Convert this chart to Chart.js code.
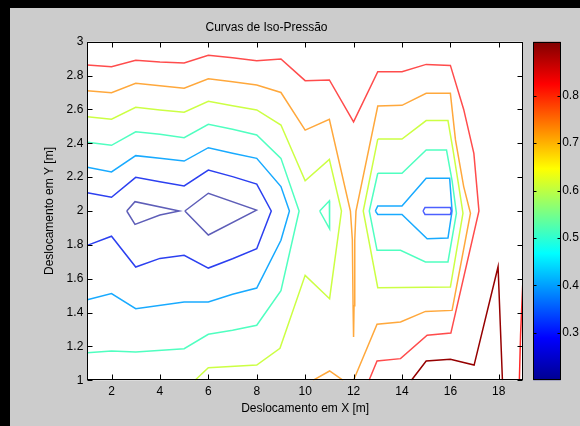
<!DOCTYPE html>
<html>
<head>
<meta charset="utf-8">
<script src="https://cdn.jsdelivr.net/npm/chart.js@4.4.1/dist/chart.umd.min.js"></script>
<style>
html, body { margin: 0; background: #000; }
#wrap { position: absolute; left: 10px; top: 8px; width: 570px; height: 418px; background: #cccccc; }
#wrap canvas { position: absolute; left: 0; top: 0; }
</style>
</head>
<body>
<div id="wrap">
  <canvas id="plot" width="570" height="418"></canvas>
  <canvas id="cbar" width="570" height="418"></canvas>
</div>
<script>
// ticks
const xTicks = [2, 4, 6, 8, 10, 12, 14, 16, 18];
const yTicks = [1, 1.2, 1.4, 1.6, 1.8, 2, 2.2, 2.4, 2.6, 2.8, 3];
const cbarTicks = [0.3, 0.4, 0.5, 0.6, 0.7, 0.8];
const cbarRange = [0.2, 0.914];

// contour lines, [x, y] vertices
const purpleA = [[2.63, 2.0], [2.97, 2.055], [4.8, 2.0], [4.0, 1.976], [2.97, 1.921], [2.63, 2.0]];
const purpleB = [[5.03, 2.0], [6, 2.105], [7.99, 2.005], [6, 1.858], [5.03, 2.0]];

const blueLeft = [[1, 2.108], [2, 2.081], [3, 2.199], [4, 2.173], [5, 2.148], [6, 2.242], [7, 2.203], [8, 2.159],
  [8.6, 2.0], [8, 1.777], [7, 1.718], [6, 1.663], [5, 1.738], [4, 1.72], [3, 1.669], [2, 1.851], [1, 1.797]];
const bluePill = [[14.87, 2.0], [14.95, 2.02], [16, 2.02], [16.04, 2.0], [16, 1.98], [14.95, 1.98], [14.87, 2.0]];

const skyLeft = [[1, 2.258], [2, 2.231], [3, 2.327], [4, 2.311], [5, 2.295], [6, 2.374], [7, 2.341], [8, 2.311],
  [9, 2.144], [9.35, 2.0], [9, 1.827], [8, 1.545], [7, 1.508], [6, 1.462], [5, 1.462], [3, 1.423], [2, 1.512], [1, 1.476]];
const skyRight = [[12.9, 2.0], [13, 2.03], [14, 2.03], [15, 2.194], [15.97, 2.194], [16.07, 2.0], [15.9, 1.84],
  [15.04, 1.836], [14, 1.98], [13, 1.98], [12.9, 2.0]];

const aquaLeft = [[1, 2.406], [2, 2.388], [3, 2.468], [4, 2.453], [5, 2.433], [6, 2.512], [7, 2.483], [8, 2.449],
  [9, 2.311], [9.75, 2.0], [9, 1.53], [8, 1.325], [7, 1.295], [6, 1.272], [5, 1.187], [3, 1.167], [2, 1.173], [1, 1.163]];
const aquaSmall = [[10.6, 2.0], [11, 2.06], [11.02, 2.0], [11, 1.895], [10.6, 2.0]];
const aquaRight = [[13, 2.223], [14, 2.223], [15, 2.36], [15.84, 2.36], [16.07, 2.18], [16.25, 1.987], [15.9, 1.699],
  [14.97, 1.699], [13.94, 1.768], [12.97, 1.768], [12.65, 2.0], [13, 2.223]];

const yellowLeft = [[1, 2.557], [2, 2.542], [3, 2.613], [4, 2.597], [5, 2.583], [6, 2.648], [7, 2.622], [8, 2.597],
  [9, 2.508], [10, 2.179], [11, 2.305], [11.5, 2.0], [11.01, 1.482], [10, 1.62], [8.96, 1.189], [8, 1.09], [6, 1.074], [5.45, 1.0]];
const yellowRight = [[13, 2.425], [14, 2.425], [15, 2.534], [15.9, 2.534], [16.11, 2.36], [16.35, 2.144], [16.52, 1.987],
  [16.0, 1.551], [13, 1.547], [12.4, 2.0], [13, 2.425]];

const orangeMain = [[1, 2.711], [2, 2.699], [3, 2.754], [4, 2.74], [5, 2.725], [6, 2.781], [7, 2.763], [8, 2.744],
  [9, 2.70], [10, 2.478], [11, 2.541], [11.87, 2.0], [11.95, 1.83], [11.98, 1.44], [12, 1.256], [12.02, 1.44],
  [12.05, 1.83], [12.1, 2.0], [13, 2.62], [14, 2.624], [15, 2.695], [16, 2.695], [16.21, 2.42], [16.55, 2.144],
  [16.83, 1.987], [16.07, 1.413], [14.97, 1.407], [13.94, 1.344], [12.97, 1.331], [12.0, 1.0]];
const orangeBump = [[10.32, 1.0], [11.01, 1.055], [11.57, 1.0]];

const redMain = [[1, 2.862], [2, 2.852], [3, 2.89], [4, 2.88], [5, 2.874], [6, 2.92], [7, 2.905], [8, 2.888],
  [9, 2.898], [10, 2.77], [11, 2.774], [12, 2.527], [13, 2.823], [14, 2.823], [15, 2.866], [16, 2.86],
  [16.55, 2.6], [16.97, 2.34], [17.18, 2.0], [16.02, 1.279], [15.04, 1.266], [13.94, 1.128], [12.97, 1.114], [12.64, 1.0]];
const redEdge = [[19, 1.81], [18.99, 1.57], [18.9, 1.27], [18.85, 1.0]];

const darkRed = [[14.39, 1.0], [15.0, 1.114], [16.0, 1.124], [16.98, 1.09], [17.97, 1.671], [18.15, 1.0]];

const font = { family: 'Liberation Sans, Arial, sans-serif', size: 12 };

const jetStops = [[0, '#000090'], [0.125, '#0000ff'], [0.375, '#00ffff'], [0.625, '#ffff00'], [0.875, '#ff0000'], [1, '#800000']];

function line(pts, color) {
  return {
    data: pts.map(([x, y]) => ({ x, y })),
    borderColor: color,
    borderWidth: 1.5,
    showLine: true,
    pointRadius: 0,
    tension: 0
  };
}

const whiteArea = {
  id: 'whiteArea',
  beforeDraw(chart) {
    const { ctx, chartArea: a } = chart;
    ctx.save();
    ctx.fillStyle = '#fff';
    ctx.fillRect(a.left, a.top, a.width, a.height);
    ctx.restore();
  }
};

// matlab style box with inward ticks
const boxTicks = {
  id: 'boxTicks',
  afterDraw(chart) {
    const { ctx, chartArea: a, scales: { x, y } } = chart;
    const l = Math.round(a.left) + 0.5, r = Math.round(a.right) - 0.5;
    const t = Math.round(a.top) + 0.5, b = Math.round(a.bottom) - 0.5;
    ctx.save();
    ctx.strokeStyle = '#000';
    ctx.lineWidth = 1;
    ctx.beginPath();
    xTicks.forEach(v => {
      const px = Math.round(x.getPixelForValue(v)) + 0.5;
      ctx.moveTo(px, b); ctx.lineTo(px, b - 5);
      ctx.moveTo(px, t); ctx.lineTo(px, t + 5);
    });
    yTicks.forEach(v => {
      const py = Math.round(y.getPixelForValue(v)) + 0.5;
      ctx.moveTo(l, py); ctx.lineTo(l + 5, py);
      ctx.moveTo(r, py); ctx.lineTo(r - 5, py);
    });
    ctx.stroke();
    ctx.strokeRect(l, t, r - l, b - t);
    ctx.restore();
  }
};

new Chart(document.getElementById('plot'), {
  type: 'scatter',
  data: {
    datasets: [
      line(purpleA, '#5e5eb8'), line(purpleB, '#5e5eb8'),
      line(blueLeft, '#2c40f0'), line(bluePill, '#4c60ff'),
      line(skyLeft, '#18aaff'), line(skyRight, '#18aaff'),
      line(aquaLeft, '#50ffc0'), line(aquaSmall, '#50ffc0'), line(aquaRight, '#50ffc0'),
      line(yellowLeft, '#ccff44'), line(yellowRight, '#ccff44'),
      line(orangeMain, '#ffa83c'), line(orangeBump, '#ffa83c'),
      line(redMain, '#ff4c4c'), line(redEdge, '#ff2828'),
      line(darkRed, '#960000')
    ]
  },
  options: {
    responsive: false,
    animation: false,
    layout: { padding: { left: 0, right: 57, top: 0, bottom: 0 } },
    plugins: {
      legend: { display: false },
      tooltip: { enabled: false },
      title: {
        display: true,
        text: 'Curvas de Iso-Pressão',
        color: '#000',
        font: { ...font, weight: 'normal' },
        padding: { top: 12, bottom: 7.3 }
      }
    },
    scales: {
      x: {
        type: 'linear',
        min: 1, max: 19,
        afterBuildTicks: s => { s.ticks = xTicks.map(v => ({ value: v })); },
        afterFit: s => { s.height = 45.7; },
        grid: { display: false, drawTicks: false },
        border: { display: false },
        ticks: { color: '#000', font, padding: 4, maxRotation: 0, autoSkip: false, callback: v => String(v) },
        title: { display: true, text: 'Deslocamento em X [m]', color: '#000', font, padding: { top: 0, bottom: 10 } }
      },
      y: {
        type: 'linear',
        min: 1, max: 3,
        afterBuildTicks: s => { s.ticks = yTicks.map(v => ({ value: v })); },
        afterFit: s => { s.width = 77.3; },
        grid: { display: false, drawTicks: false },
        border: { display: false },
        ticks: { color: '#000', font, padding: 4, autoSkip: false, callback: v => String(v) },
        title: { display: true, text: 'Deslocamento em Y [m]', color: '#000', font, padding: { top: 32, bottom: 0 } }
      }
    }
  },
  plugins: [whiteArea, boxTicks]
});

// colorbar
function jetFill(context) {
  const a = context.chart.chartArea;
  if (!a) return '#000';
  const g = context.chart.ctx.createLinearGradient(0, a.bottom, 0, a.top);
  jetStops.forEach(([t, c]) => g.addColorStop(t, c));
  return g;
}

const barTicks = {
  id: 'barTicks',
  afterDraw(chart) {
    const { ctx, chartArea: a, scales: { y } } = chart;
    const l = Math.round(a.left) + 0.5, r = Math.round(a.right) - 0.5;
    const t = Math.round(a.top) + 0.5, b = Math.round(a.bottom) - 0.5;
    ctx.save();
    ctx.strokeStyle = '#000';
    ctx.lineWidth = 1;
    ctx.beginPath();
    cbarTicks.forEach(v => {
      const py = Math.round(y.getPixelForValue(v)) + 0.5;
      ctx.moveTo(l, py); ctx.lineTo(l + 3, py);
      ctx.moveTo(r, py); ctx.lineTo(r - 3, py);
    });
    ctx.stroke();
    ctx.strokeRect(l, t, r - l, b - t);
    ctx.restore();
  }
};

new Chart(document.getElementById('cbar'), {
  type: 'bar',
  data: {
    labels: [''],
    datasets: [{
      data: [cbarRange],
      backgroundColor: jetFill,
      borderWidth: 0,
      barPercentage: 1,
      categoryPercentage: 1
    }]
  },
  options: {
    responsive: false,
    animation: false,
    layout: { padding: { left: 523.3, right: 0, top: 33.7, bottom: 45.7 } },
    plugins: { legend: { display: false }, tooltip: { enabled: false } },
    scales: {
      x: { display: false },
      y: {
        position: 'right',
        min: cbarRange[0], max: cbarRange[1],
        afterBuildTicks: s => { s.ticks = cbarTicks.map(v => ({ value: v })); },
        afterFit: s => { s.width = 19.3; },
        grid: { display: false, drawTicks: false },
        border: { display: false },
        ticks: { color: '#000', font, padding: 1.5, autoSkip: false, callback: v => String(v) }
      }
    }
  },
  plugins: [barTicks]
});
</script>
</body>
</html>
